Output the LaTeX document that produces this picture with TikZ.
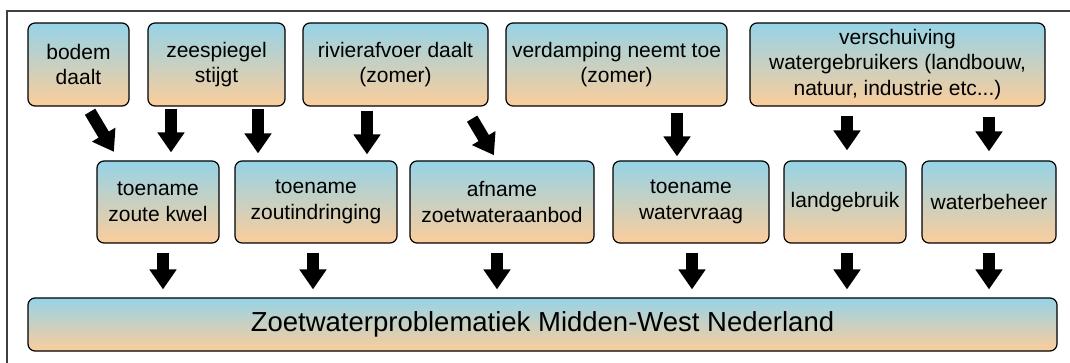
\documentclass[tikz,border=0pt]{standalone}
\usepackage{fontspec}
\setmainfont{Liberation Sans}
\usetikzlibrary{arrows.meta}

\definecolor{boxblue}{RGB}{150,211,231}
\definecolor{boxpeach}{RGB}{251,205,155}

\tikzset{
  factor/.style={draw=black, line width=1.2pt, rounded corners=7pt,
    top color=boxblue, bottom color=boxpeach, align=center, inner sep=0pt,
    font=\fontsize{21}{25.5}\selectfont},
  bigarrow/.style={line width=12pt, -{Triangle[width=26pt,length=20pt]}},
}

\begin{document}
\begin{tikzpicture}[x=1pt, y=-1pt]
    \useasboundingbox (0,0) rectangle (1070,363);

    % Draw frame
    \draw[line width=1.5pt, black!75] (7,11) rectangle (1085,385);

    % causes
    \node[factor, minimum width=101pt, minimum height=83pt] (t1) at (78.5,64.5) {bodem\\daalt};
    \node[factor, minimum width=137pt, minimum height=83pt] (t2) at (216.5,64.5) {zeespiegel\\stijgt};
    \node[factor, minimum width=185pt, minimum height=83pt] (t3) at (395.5,64.5) {rivierafvoer daalt\\(zomer)};
    \node[factor, minimum width=221pt, minimum height=83pt] (t4) at (616.5,64.5) {verdamping neemt toe\\(zomer)};
    \node[factor, minimum width=295pt, minimum height=83pt] (t5) at (897.5,64.5) {verschuiving\\watergebruikers (landbouw,\\natuur, industrie etc...)};

    % effects
    \node[factor, minimum width=122pt, minimum height=82pt] (m1) at (158,202) {toename\\zoute kwel};
    \node[factor, minimum width=162pt, minimum height=82pt] (m2) at (316,202) {toename\\zoutindringing};
    \node[factor, minimum width=184pt, minimum height=82pt] (m3) at (502,202) {afname\\zoetwateraanbod};
    \node[factor, minimum width=156pt, minimum height=82pt] (m4) at (691,202) {toename\\watervraag};
    \node[factor, minimum width=122pt, minimum height=82pt] (m5) at (845,202) {landgebruik};
    \node[factor, minimum width=134pt, minimum height=82pt] (m6) at (989,202) {waterbeheer};

    \node[factor, minimum width=1029pt, minimum height=53pt,
      font=\fontsize{27.5}{31}\selectfont] (zw) at (542.5,324.5) {Zoetwaterproblematiek Midden-West Nederland};

    % arrows from causes to effects
    \draw[bigarrow, shorten <=6pt, shorten >=10pt] (t1.south -| 87,0) -- (m1.north -| 119,0);
    \draw[bigarrow, shorten <=2pt, shorten >=8pt] (t2.south -| 171,0) -- (m1.north -| 171,0);
    \draw[bigarrow, shorten <=2pt, shorten >=7pt] (t2.south -| 258,0) -- (m2.north -| 258,0);
    \draw[bigarrow, shorten <=4pt, shorten >=6pt] (t3.south -| 367,0) -- (m2.north -| 367,0);
    \draw[bigarrow, shorten <=14pt, shorten >=6pt] (t3.south -| 465,0) -- (m3.north -| 497,0);
    \draw[bigarrow, shorten <=6pt, shorten >=4pt] (t4.south -| 677,0) -- (m4.north -| 677,0);
    \draw[bigarrow, shorten <=9pt, shorten >=10pt] (t5.south -| 847,0) -- (m5.north -| 847,0);
    \draw[bigarrow, shorten <=10pt, shorten >=9pt] (t5.south -| 989,0) -- (m6.north -| 989,0);

    % arrows to the problem
    \draw[bigarrow, shorten <=9pt, shorten >=8pt] (m1.south -| 163,0) -- (zw.north -| 163,0);
    \draw[bigarrow, shorten <=9pt, shorten >=8pt] (m2.south -| 313,0) -- (zw.north -| 313,0);
    \draw[bigarrow, shorten <=9pt, shorten >=8pt] (m3.south -| 497,0) -- (zw.north -| 497,0);
    \draw[bigarrow, shorten <=9pt, shorten >=8pt] (m4.south -| 692,0) -- (zw.north -| 692,0);
    \draw[bigarrow, shorten <=9pt, shorten >=8pt] (m5.south -| 847,0) -- (zw.north -| 847,0);
    \draw[bigarrow, shorten <=9pt, shorten >=8pt] (m6.south -| 989,0) -- (zw.north -| 989,0);
\end{tikzpicture}
\end{document}
